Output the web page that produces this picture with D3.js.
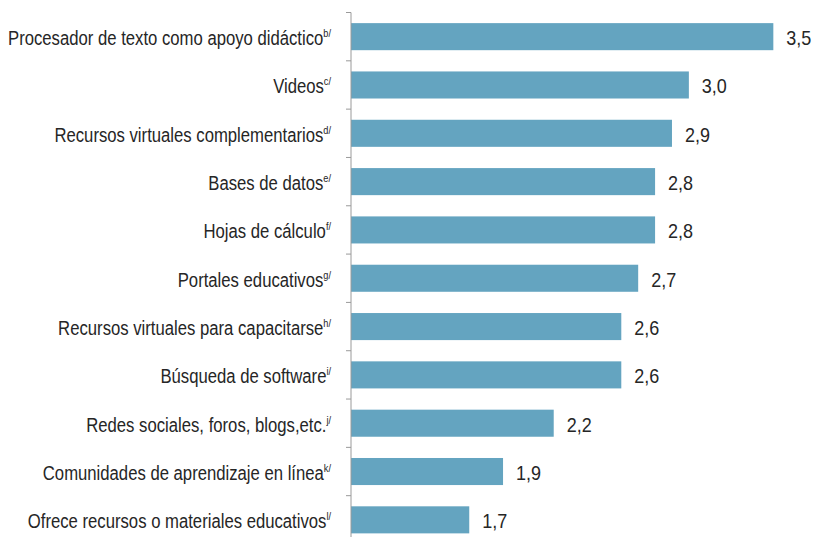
<!DOCTYPE html>
<html>
<head>
<meta charset="utf-8">
<script src="https://cdn.jsdelivr.net/npm/d3@7"></script>
<style>
  html, body { margin: 0; padding: 0; background: #fff; }
  svg { display: block; }
  text { font-family: "Liberation Sans", Arial, sans-serif; fill: #262626; }
</style>
</head>
<body>
<svg id="chart" width="815" height="537"></svg>
<script>
// Uso de recursos TIC (promedio, escala 1 a 4)
const categories = [
  "Procesador de texto como apoyo didáctico",
  "Videos",
  "Recursos virtuales complementarios",
  "Bases de datos",
  "Hojas de cálculo",
  "Portales educativos",
  "Recursos virtuales para capacitarse",
  "Búsqueda de software",
  "Redes sociales, foros, blogs,etc.",
  "Comunidades de aprendizaje en línea",
  "Ofrece recursos o materiales educativos"
];
const notes = ["b/", "c/", "d/", "e/", "f/", "g/", "h/", "i/", "j/", "k/", "l/"];
const values = [3.5, 3.0, 2.9, 2.8, 2.8, 2.7, 2.6, 2.6, 2.2, 1.9, 1.7];
const xDomain = [1, 4];

const rows = categories.map((c, i) => ({ name: c, note: notes[i], value: values[i] }));

const svg = d3.select("#chart");
const axisX = 351;
const squeeze = 0.835;    // condensed look for the category labels
const squeezeVal = 0.9;   // condensed look for the value labels

const x = d3.scaleLinear().domain(xDomain).range([axisX, 857.8]);
const y = d3.scaleBand().domain(categories).range([12.5, 544]).paddingInner(0.44).paddingOuter(0.22);

const fmt = v => d3.format(".1f")(v).replace(".", ",");

// barras
svg.append("g").selectAll("rect")
  .data(rows)
  .join("rect")
  .attr("x", x(xDomain[0]))
  .attr("y", d => y(d.name))
  .attr("width", d => x(d.value) - x(xDomain[0]))
  .attr("height", y.bandwidth())
  .attr("fill", "#64a4c0");

// eje vertical con marcas entre categorías
const axisG = svg.append("g").attr("class", "axis");
const step = y.step();
const bounds = d3.range(categories.length + 1).map(i => 12.5 + i * step);
axisG.append("line")
  .attr("x1", axisX).attr("x2", axisX)
  .attr("y1", 12.5).attr("y2", 544)
  .attr("stroke", "#9a9a9a").attr("stroke-width", 1);
axisG.selectAll("line.tick")
  .data(bounds)
  .join("line")
  .attr("class", "tick")
  .attr("x1", axisX - 5).attr("x2", axisX)
  .attr("y1", d => d).attr("y2", d => d)
  .attr("stroke", "#9a9a9a").attr("stroke-width", 1);

// etiquetas de categoría con nota en superíndice
const lab = svg.append("g").selectAll("text")
  .data(rows)
  .join("text")
  .attr("transform", d => `translate(331,${y(d.name) + y.bandwidth() / 2 + 8.5}) scale(${squeeze},1)`)
  .attr("text-anchor", "end")
  .style("font-size", "20px");
lab.append("tspan").text(d => d.name);
lab.append("tspan")
  .attr("dy", -8)
  .style("font-size", "11px")
  .text(d => d.note);

// valores
svg.append("g").selectAll("text")
  .data(rows)
  .join("text")
  .attr("transform", d => `translate(${x(d.value) + 13},${y(d.name) + y.bandwidth() / 2 + 8.5}) scale(${squeezeVal},1)`)
  .style("font-size", "20px")
  .text(d => fmt(d.value));
</script>
</body>
</html>
